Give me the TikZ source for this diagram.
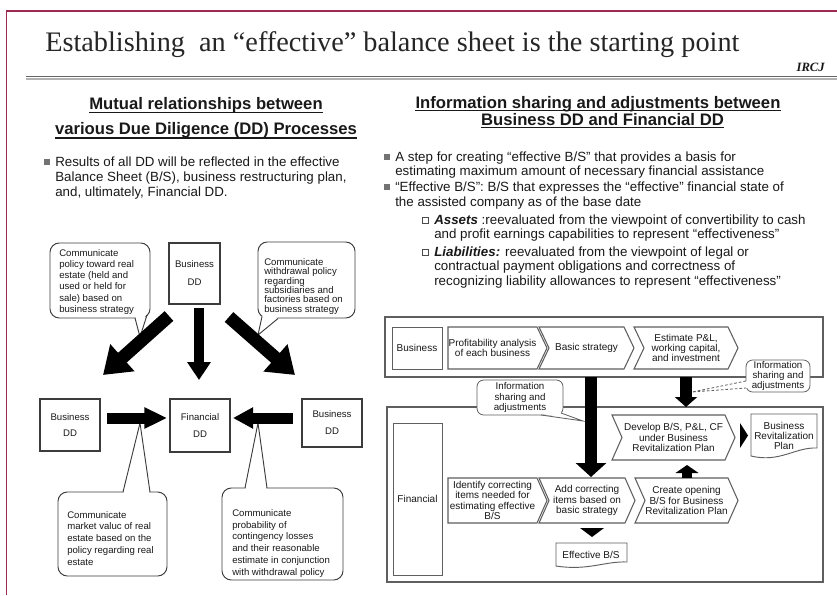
\documentclass[tikz,border=0pt]{standalone}
\usepackage{fontspec}
\setmainfont{Liberation Sans}
\newfontfamily\ttlfont{Liberation Serif}
\usetikzlibrary{arrows.meta}
\definecolor{framec}{RGB}{158,42,84}
\definecolor{ink}{RGB}{25,25,25}
\definecolor{lin}{RGB}{60,60,60}
\definecolor{rlin}{RGB}{95,95,95}
\newcommand\mychev[6]{%
  \draw[chevline] (#2,#4) -- ({#3-10},#4) -- (#3,{(#4+#5)/2}) -- ({#3-10},#5) -- (#2,#5) -- ({#2+10},{(#4+#5)/2}) -- cycle;
  \node[chevtext] (#1) at ({(#2+#3)/2},{(#4+#5)/2}) {#6};}
\newcommand\mypent[6]{%
  \draw[chevline] (#2,#4) -- ({#3-10},#4) -- (#3,{(#4+#5)/2}) -- ({#3-10},#5) -- (#2,#5) -- cycle;
  \node[chevtext] (#1) at ({(#2+#3)/2-5},{(#4+#5)/2}) {#6};}
\begin{document}
\begin{tikzpicture}[x=0.75pt,y=-0.75pt,
  every node/.style={text=ink},
  lbox/.style={draw=lin, line width=0.8pt, fill=white, align=center, inner sep=0pt, font=\fontsize{7.2}{12}\selectfont},
  cbody/.style={draw=lin, line width=0.7pt, fill=white, rounded corners=7pt, inner sep=0pt},
  ctext/.style={align=left, inner sep=0pt, anchor=north west, font=\fontsize{7.2}{8.4}\selectfont},
  tailline/.style={draw=lin, line width=0.7pt},
  bigv/.style={line width=8pt, black, -{Triangle[width=17pt,length=13.5pt]}},
  bigd/.style={line width=9.75pt, black, -{Triangle[width=26pt,length=19.5pt]}},
  bigh/.style={line width=8.25pt, black, -{Triangle[width=15pt,length=17pt]}},
  rframe/.style={draw=rlin, line width=0.9pt, inner sep=0pt},
  rbox/.style={draw=rlin, line width=0.7pt, inner sep=0pt, font=\fontsize{7.5}{7.8}\selectfont},
  chevline/.style={draw=rlin, line width=0.8pt, fill=white},
  chevtext/.style={align=center, inner sep=0pt, font=\fontsize{7.5}{7.8}\selectfont},
  rcall/.style={draw=rlin, line width=0.6pt, fill=white, rounded corners=5pt, align=center, inner sep=0pt, font=\fontsize{7.3}{7.6}\selectfont},
  rtail/.style={draw=rlin, line width=0.6pt},
  doc/.style={draw=rlin, line width=0.7pt, fill=white},
  btext/.style={align=left, inner sep=0pt, anchor=north west},
  sectitle/.style={anchor=base, inner sep=0pt, font=\fontsize{12.5}{15}\selectfont\bfseries},
  uline/.style={draw=ink, line width=0.9pt},
]
\useasboundingbox (0,0) rectangle (837,595);
\fill[white] (0,0) rectangle (837,595);
% frame and header
\draw[framec, line width=1.4pt] (6.5,595) -- (6.5,11) -- (837,11);
\node[anchor=base west, inner sep=0pt, font=\ttlfont\fontsize{21.2}{24}\selectfont, text=black!85] (title) at (45,52) {Establishing\ \ an “effective” balance sheet is the starting point};
\node[anchor=base east, inner sep=0pt, font=\ttlfont\fontsize{9.5}{11}\selectfont\bfseries\itshape] (ircj) at (825,72) {IRCJ};
\draw[black!60, line width=1.2pt] (26,76.5) -- (837,76.5);
\draw[black!30, line width=0.8pt] (26,79) -- (837,79);

% section titles
\node[sectitle] (lt1) at (206,110) {Mutual relationships between};
\node[sectitle] (lt2) at (206,134.5) {various Due Diligence (DD) Processes};
\node[sectitle] (rt1) at (598,108.5) {Information sharing and adjustments between};
\node[sectitle] (rt2) at (602.5,125.5) {Business DD and Financial DD};
\draw[uline] ([yshift=-1.8pt]lt1.base west) -- ([yshift=-1.8pt]lt1.base east);
\draw[uline] ([yshift=-2.6pt]lt2.base west) -- ([yshift=-2.6pt]lt2.base east);
\draw[uline] ([yshift=-1.8pt]rt1.base west) -- ([yshift=-1.8pt]rt1.base east);
\draw[uline] ([yshift=-1.8pt]rt2.base west) -- ([yshift=-1.8pt]rt2.base east);

% bullets
\fill[black!55] (44,159) rectangle (50,165);
\node[btext, font=\fontsize{10}{11.25}\selectfont] (lb) at (55,156.5) {Results of all DD will be reflected in the effective\\Balance Sheet (B/S), business restructuring plan,\\and, ultimately, Financial DD.};
\fill[black!55] (384,154) rectangle (390,160);
\node[btext, font=\fontsize{10}{10.8}\selectfont] (rb1) at (395,151.5) {A step for creating “effective B/S” that provides a basis for\\estimating maximum amount of necessary financial assistance};
\fill[black!55] (384,184) rectangle (390,190);
\node[btext, font=\fontsize{10}{11.6}\selectfont] (rb2) at (395,181.5) {“Effective B/S”: B/S that expresses the “effective” financial state of\\the assisted company as of the base date};
\draw[black!70, line width=0.6pt] (422.5,217.5) rectangle (428,223);
\node[btext, font=\fontsize{10}{10.8}\selectfont] (rs1) at (434,214.5) {{\bfseries\itshape Assets} :reevaluated from the viewpoint of convertibility to cash\\and profit earnings capabilities to represent “effectiveness”};
\draw[black!70, line width=0.6pt] (422.5,249.5) rectangle (428,255);
\node[btext, font=\fontsize{10}{10.9}\selectfont] (rs2) at (434,246.5) {{\bfseries\itshape Liabilities:} reevaluated from the viewpoint of legal or\\contractual payment obligations and correctness of\\recognizing liability allowances to represent “effectiveness”};

% ---------- left diagram ----------
\node[lbox, minimum width=38.25pt, minimum height=45.75pt, font=\fontsize{7.2}{13.5}\selectfont] (bdd) at (194.5,273.5) {Business\\DD};
\node[lbox, minimum width=45pt, minimum height=39pt] (bl) at (70,425) {Business\\DD};
\node[lbox, minimum width=45pt, minimum height=39.75pt, font=\fontsize{7.2}{12.75}\selectfont] (fdd) at (200,425.5) {Financial\\DD};
\node[lbox, minimum width=45pt, minimum height=36pt, font=\fontsize{7.2}{12.75}\selectfont] (br) at (332,423) {Business\\DD};

% callouts
\node[cbody, minimum width=75pt, minimum height=56.25pt] (c1) at (100,280.5) {};
\fill[white] (135.5,316.5) -- (140,337) -- (146,314) -- cycle;
\draw[tailline] (135,318) -- (140,337) -- (147,315);
\node[ctext] (c1t) at (59,249) {Communicate\\policy toward real\\estate (held and\\used or held for\\sale) based on\\business strategy};

\node[cbody, minimum width=72.75pt, minimum height=57pt] (c2) at (306.5,280) {};
\fill[white] (262.5,315.5) -- (258,335) -- (278,317.5) -- cycle;
\draw[tailline] (262,316.5) -- (258,335) -- (278,318.5);
\node[ctext, font=\fontsize{7.2}{7.05}\selectfont] (c2t) at (264,258) {Communicate\\withdrawal policy\\regarding\\subsidiaries and\\factories based on\\business strategy};

\node[cbody, minimum width=81.75pt, minimum height=63pt] (c3) at (112.5,534) {};
\fill[white] (123.5,493.5) -- (140,423) -- (149.5,493.5) -- cycle;
\draw[tailline] (123,492) -- (140,423) -- (150,492);
\node[ctext, font=\fontsize{7.2}{8.8}\selectfont] (c3t) at (67,511) {Communicate\\market valuc of real\\estate based on the\\policy regarding real\\estate};

\node[cbody, minimum width=90.75pt, minimum height=69pt] (c4) at (282.5,534) {};
\fill[white] (245.5,489.5) -- (258,423) -- (266.5,489.5) -- cycle;
\draw[tailline] (245,488) -- (258,423) -- (267,488);
\node[ctext, font=\fontsize{7.2}{8.85}\selectfont] (c4t) at (232,509) {Communicate\\probability of\\contingency losses\\and their reasonable\\estimate in conjunction\\with withdrawal policy};

% thick arrows
\coordinate (dl1) at (169,316); \coordinate (dl2) at (103,375);
\coordinate (dr1) at (229,317); \coordinate (dr2) at (295,375);
\coordinate (dm1) at (199,308); \coordinate (dm2) at (199,380);
\coordinate (hr1) at (107,418); \coordinate (hr2) at (167,418);
\coordinate (hl1) at (293,418); \coordinate (hl2) at (233,418);
\draw[bigd] (dl1) -- (dl2);
\draw[bigd] (dr1) -- (dr2);
\draw[bigv] (dm1) -- (dm2);
\draw[bigh] (hr1) -- (hr2);
\draw[line width=8.25pt, black, -{Triangle[width=15pt,length=15pt]}] (hl1) -- (hl2);

% ---------- right diagram ----------
\node[rframe, minimum width=328.5pt, minimum height=45pt] (bframe) at (604,347) {};
\node[rbox, minimum width=37.5pt, minimum height=31.5pt] (biz) at (417,348) {Business};
\node[rframe, minimum width=327pt, minimum height=131.25pt] (fframe) at (605,494.5) {};
\node[rbox, minimum width=36.75pt, minimum height=114pt] (fin) at (417.5,499) {Financial};

\mypent{ch1}{448}{547}{327}{369}{Profitability analysis\\of each business}
\mychev{ch2}{539}{634}{327}{369}{Basic strategy}
\mychev{ch3}{634}{738}{327}{369}{Estimate P\&L,\\working capital,\\and investment}
\mypent{chA}{448}{547}{478}{523}{Identify correcting\\items needed for\\estimating effective\\B/S}
\mychev{chB}{539}{635}{478}{523}{Add correcting\\items based on\\basic strategy}
\mychev{chC}{635}{738}{478}{523}{Create opening\\B/S for Business\\Revitalization Plan}
\mychev{chD}{612}{735}{415}{460}{Develop B/S, P\&L, CF\\under Business\\Revitalization Plan}

% right callouts
\node[rcall, minimum width=64.5pt, minimum height=26.25pt] (ci1) at (520,397.5) {Information\\sharing and\\adjustments};
\fill[white] (541.5,413.8) -- (583,421) -- (560,412.2) -- cycle;
\draw[rtail] (541,415) -- (583,421) -- (561,413);
\node[rcall, minimum width=48pt, minimum height=24pt] (ci2) at (778,376) {Information\\sharing and\\adjustments};
\fill[white] (746.8,381) -- (692,392) -- (746.8,388) -- cycle;
\draw[rtail, dash pattern=on 2pt off 1.5pt] (746,381) -- (692,392) -- (746,388);

% right arrows
\coordinate (ra1) at (591,377); \coordinate (ra2) at (591,477);
\coordinate (rb1s) at (686,377); \coordinate (rb2e) at (686,407);
\coordinate (ru1) at (687,478); \coordinate (ru2) at (687,465);
\draw[line width=9pt, black, -{Triangle[width=22.5pt,length=10.5pt]}] (ra1) -- (ra2);
\draw[line width=9pt, black, -{Triangle[width=16.5pt,length=7.5pt]}] (rb1s) -- (rb2e);
\draw[line width=7.5pt, black, -{Triangle[width=17pt,length=6pt]}] (ru1) -- (ru2);

% documents
\draw[doc] (751,414) -- (817,414) -- (817,448) .. controls (795,447) and (780,463) .. (751,456) -- cycle;
\node[chevtext] (doc1) at (784,436) {Business\\Revitalization\\Plan};
\draw[doc] (556,543) -- (627,543) -- (627,562) .. controls (605,561) and (588,571) .. (556,566) -- cycle;
\node[chevtext] (doc2) at (591,554.5) {Effective B/S};
\fill[black] (740,423) -- (748,435.5) -- (740,448) -- cycle;
\fill[black] (580,528) -- (604,528) -- (592,537) -- cycle;
\end{tikzpicture}
\end{document}
